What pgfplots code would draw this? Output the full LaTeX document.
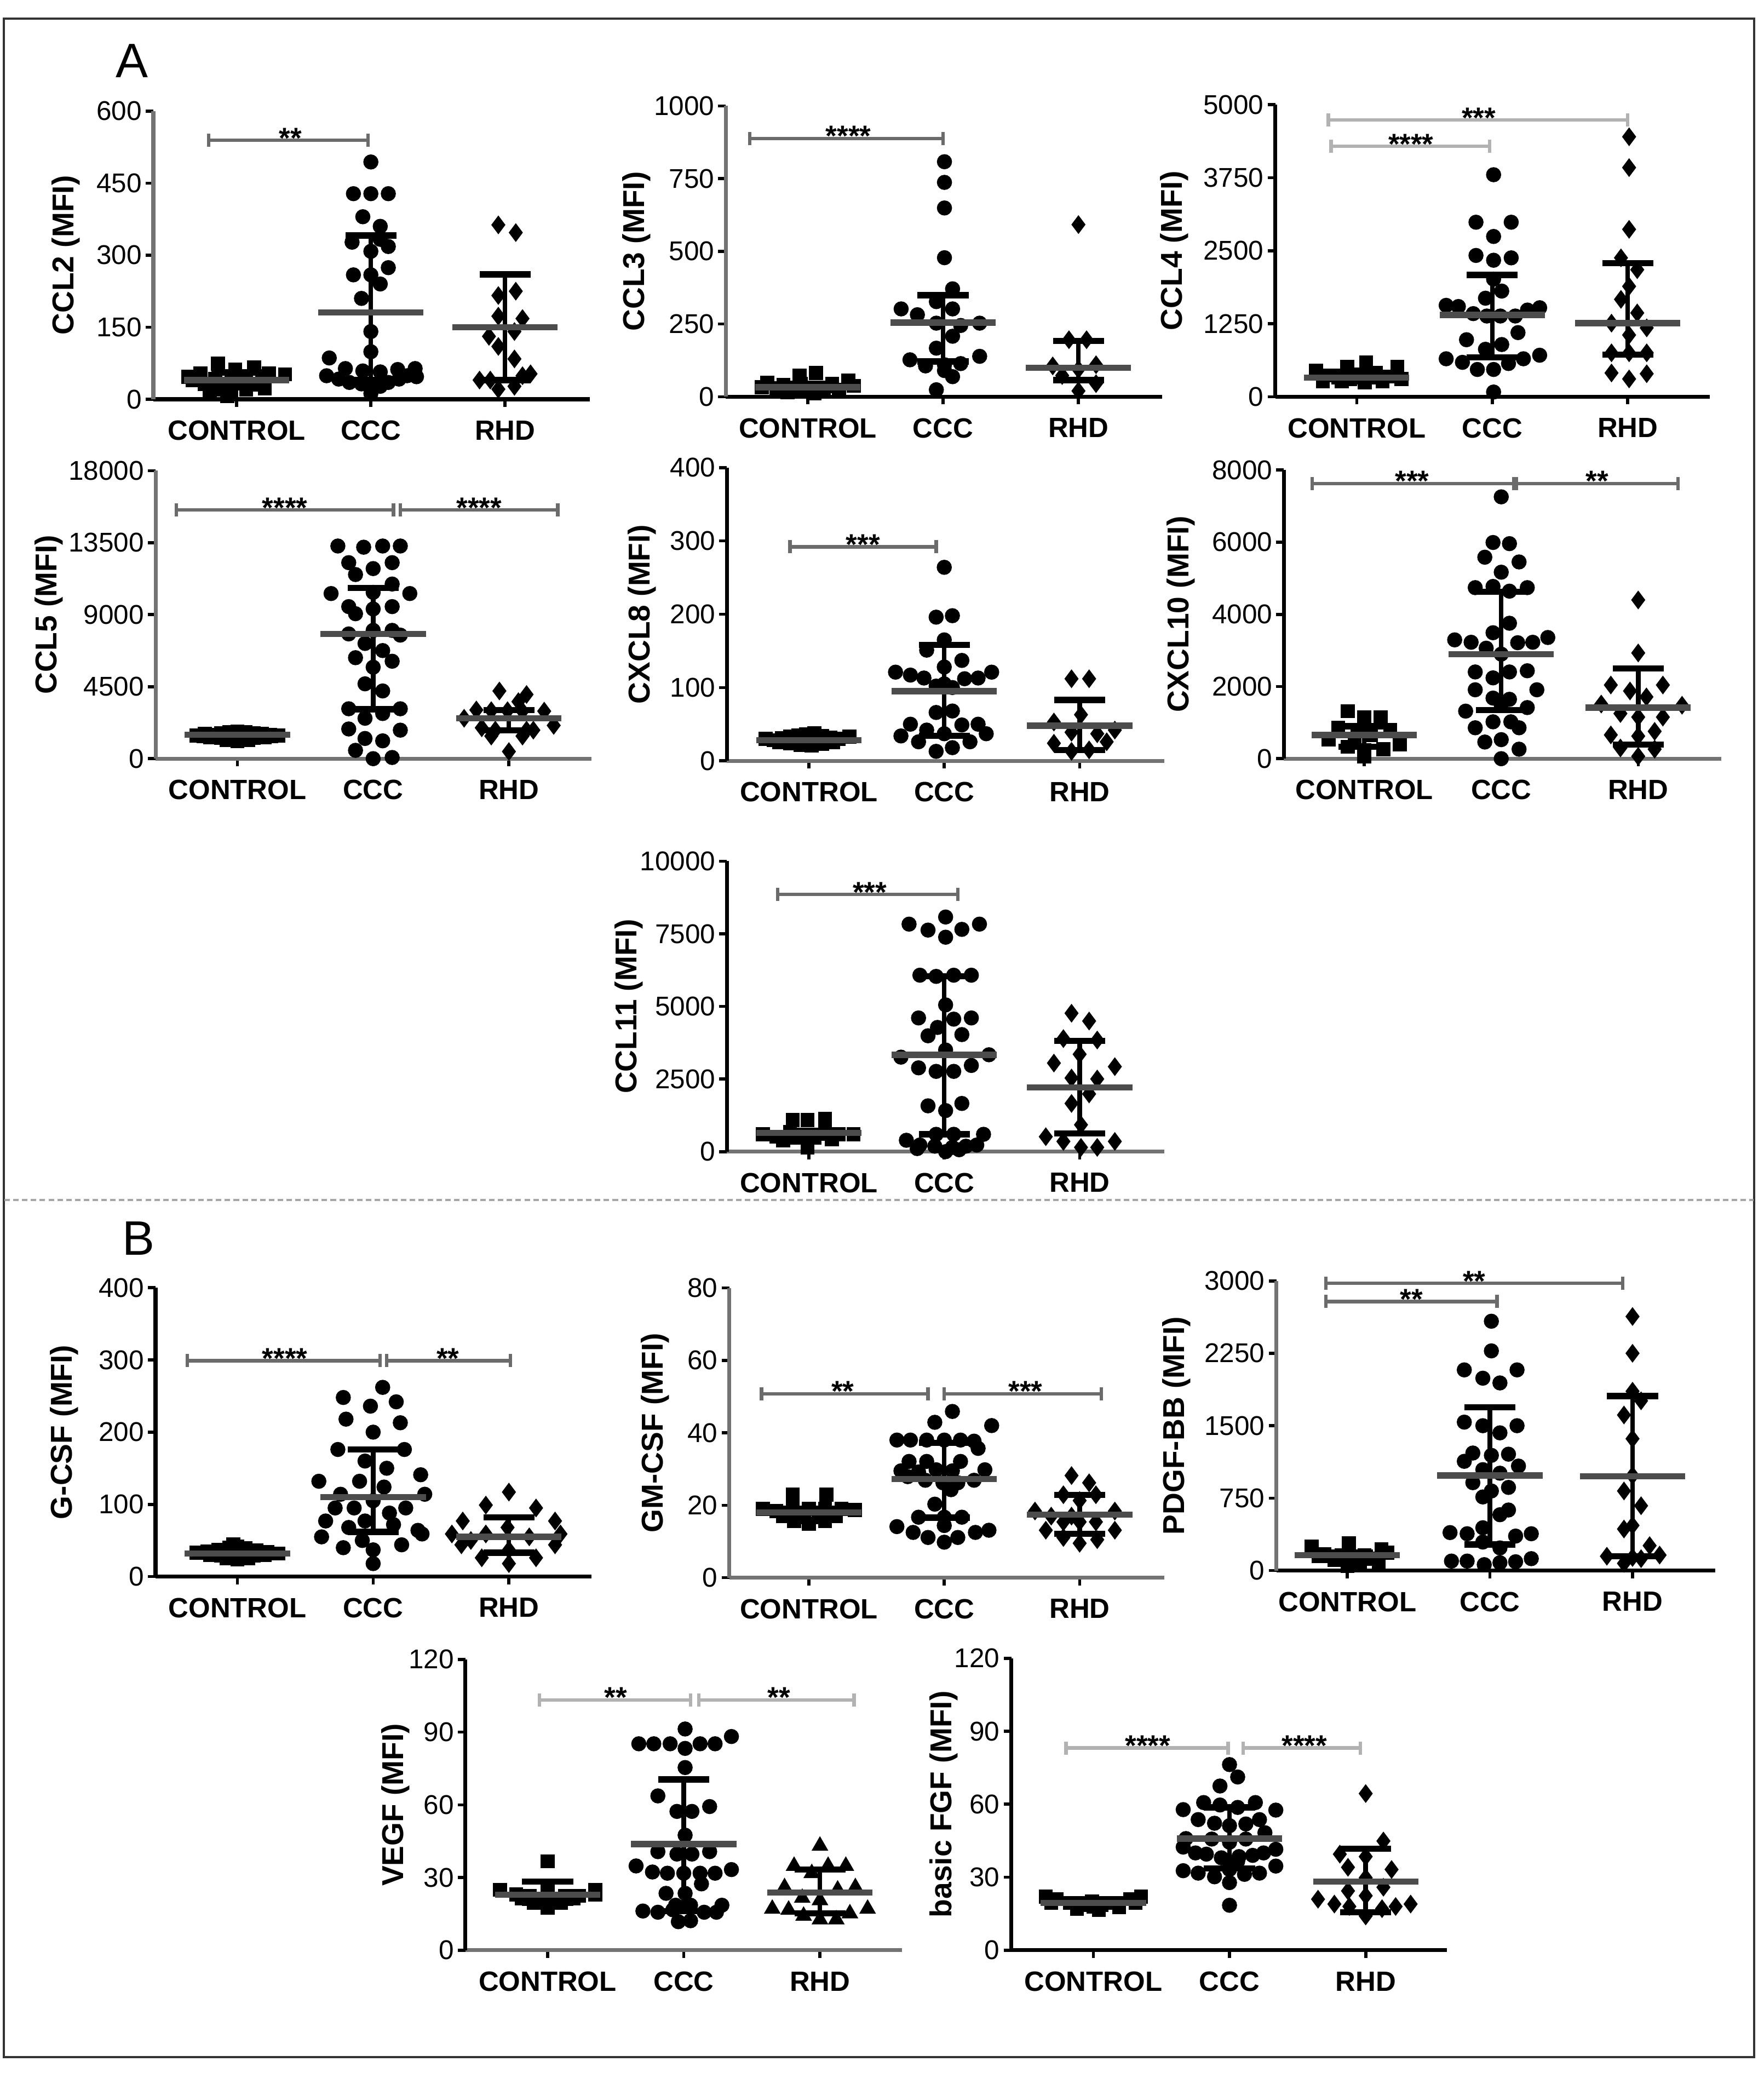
\documentclass[border=0pt]{standalone}
\usepackage{pgfplots}
\pgfplotsset{compat=1.18}
\usepackage{fontspec}
\setmainfont{Liberation Sans}
\definecolor{axgray}{gray}{0.45}
\definecolor{brgray}{gray}{0.42}
\definecolor{brlight}{gray}{0.7}

\pgfplotsset{
  panel/.style={
    scale only axis,
    anchor=south west,
    axis lines*=left,
    ymin=0,
    xtick={1,2,3},
    xticklabels={CONTROL,CCC,RHD},
    tick align=outside,
    major tick length=0.07cm,
    tick style={black, line width=0.8pt},
    axis line style={line width=1pt},
    clip=false,
    scaled y ticks=false,
    /pgf/number format/assume math mode=true,
    /pgf/number format/1000 sep={},
    yticklabel style={font=\fontsize{7}{8}\selectfont, inner sep=0.8pt},
    xticklabel style={font=\bfseries\fontsize{7.2}{8}\selectfont},
    ylabel style={font=\bfseries\fontsize{7.8}{9}\selectfont},
  },
  ylpos/.style={ylabel style={at={(axis description cs:-#1,0.5)}, anchor=center}},
  ctrl/.style={only marks, mark=square*, mark size=1.6pt, mark options={black}},
  ccc/.style={only marks, mark=*, mark size=1.75pt, mark options={black}},
  rhd/.style={only marks, mark=diamond*, mark size=2.1pt, mark options={black}},
  tri/.style={only marks, mark=triangle*, mark size=2.1pt, mark options={black}},
  med/.style={only marks, mark=-, mark size=13.6pt, mark options={black!70, line width=1.6pt}},
  iqr/.style={black, line width=1.2pt, mark=-, mark size=6.6pt, mark options={black, line width=1.6pt}},
  brk/.style={brgray, line width=0.9pt, mark=|, mark size=1.7pt, mark options={brgray, line width=0.9pt}},
  brkl/.style={brlight, line width=0.9pt, mark=|, mark size=1.7pt, mark options={brlight, line width=0.9pt}},
}
\newcommand{\stars}[3]{\node[font=\bfseries\fontsize{7.5}{8}\selectfont, anchor=base, inner sep=0pt, yshift=-0.07cm] at (axis cs:#1,#2) {#3};}

\begin{document}
\begin{tikzpicture}
\useasboundingbox (0,0) rectangle (16.008,-18.816);
\draw[black!80, line width=0.6pt] (0.036,-0.168) rectangle (15.924,-18.672);
\draw[black!35, line width=0.6pt, dash pattern=on 0.05cm off 0.03cm] (0.04,-10.89) -- (15.92,-10.89);
\node[font=\fontsize{12.5}{14}\selectfont] at (1.20,-0.55) {A};
\node[font=\fontsize{12.5}{14}\selectfont] at (1.26,-11.24) {B};

% ---------------- CCL2
\begin{axis}[panel, at={(1.392cm,-3.624cm)}, width=3.96cm, height=2.616cm,
  xmin=0.379, xmax=3.63, ymax=600, ytick={0,150,300,450,600},
  ylabel={CCL2 (MFI)}, ylpos=0.2, y axis line style={axgray}]
\addplot[ctrl] coordinates {(0.86,74) (0.73,54) (0.99,62) (1.13,67) (1.24,54) (1.36,52) (0.84,42) (0.96,44) (1.07,44) (1.19,42) (0.76,32) (0.89,30) (1.01,35) (1.13,30) (0.96,17) (0.84,20) (1.07,20) (0.93,7) (0.80,12) (1.21,22) (0.64,47) (0.67,40)};
\addplot[ccc] coordinates {(2.00,494) (1.87,428) (2.00,428) (2.13,428) (1.94,380) (2.07,360) (1.86,327) (2.00,308) (2.13,318) (2.07,333) (2.13,274) (1.87,259) (2.00,259) (2.07,240) (1.93,210) (2.00,141) (2.00,99) (1.69,86) (1.67,49) (1.76,42) (1.81,64) (1.94,59) (2.07,57) (2.20,62) (2.33,64) (2.27,49) (2.34,47) (1.84,35) (1.93,32) (2.00,22) (2.07,27) (2.13,35) (2.21,42) (2.00,12)};
\addplot[rhd] coordinates {(2.95,363) (3.08,347) (3.08,225) (2.95,216) (2.95,173) (3.13,168) (2.88,131) (3.07,141) (2.95,110) (3.07,84) (2.81,40) (2.89,40) (3.13,49) (3.19,53) (2.95,21) (3.07,27)};
\addplot[iqr] coordinates {(1,25) (1,56)};
\addplot[iqr] coordinates {(2,40) (2,341)};
\addplot[iqr] coordinates {(3,40) (3,260)};
\addplot[med] coordinates {(1,40) (2,181) (3,150)};
\addplot[brk] coordinates {(0.79,539) (1.98,539)};
\stars{1.4}{539}{**}
\end{axis}

% ---------------- CCL3
\begin{axis}[panel, at={(6.589cm,-3.601cm)}, width=3.962cm, height=2.64cm,
  xmin=0.395, xmax=3.62, ymax=1000, ytick={0,250,500,750,1000},
  ylabel={CCL3 (MFI)}, ylpos=0.205, y axis line style={axgray}]
\addplot[ctrl] coordinates {(0.94,73) (1.06,82) (0.70,49) (0.82,41) (1.18,45) (1.30,55) (0.77,29) (0.90,29) (1.00,20) (1.12,29) (1.23,24) (1.34,37) (0.85,16) (1.05,12) (0.66,33) (0.95,45)};
\addplot[ccc] coordinates {(2.01,808) (2.01,737) (2.01,649) (2.01,478) (2.07,371) (1.95,327) (1.69,302) (2.07,302) (1.81,282) (1.95,253) (2.13,245) (2.27,253) (2.07,208) (1.95,167) (1.755,127) (2.27,139) (1.87,106) (2.01,110) (2.13,114) (2.01,90) (2.07,69) (1.95,24)};
\addplot[rhd] coordinates {(3.00,592) (2.93,196) (3.06,196) (2.81,106) (2.88,73) (3.00,94) (3.13,110) (3.13,45) (3.00,20)};
\addplot[iqr] coordinates {(1,22) (1,45)};
\addplot[iqr] coordinates {(2,121) (2,349)};
\addplot[iqr] coordinates {(3,57) (3,192)};
\addplot[med] coordinates {(1,33) (2,255) (3,100)};
\addplot[brk] coordinates {(0.57,888) (2.0,888)};
\stars{1.3}{888}{****}
\end{axis}

% ---------------- CCL4
\begin{axis}[panel, at={(11.576cm,-3.601cm)}, width=3.946cm, height=2.651cm,
  xmin=0.399, xmax=3.607, ymax=5000, ytick={0,1250,2500,3750,5000},
  ylabel={CCL4 (MFI)}, ylpos=0.232]
\addplot[ctrl] coordinates {(0.70,447) (0.93,508) (1.07,589) (1.30,508) (0.78,366) (0.86,366) (1.00,386) (1.14,407) (1.23,346) (0.75,264) (0.89,264) (1.06,244) (1.19,264) (1.33,305) (0.95,305)};
\addplot[ccc] coordinates {(2.01,3801) (1.88,2988) (2.14,2988) (2.01,2744) (1.88,2419) (2.01,2337) (2.14,2378) (2.01,2013) (2.07,1809) (1.95,1687) (1.66,1565) (1.75,1545) (1.86,1423) (1.96,1382) (2.06,1382) (2.17,1382) (2.26,1484) (2.35,1524) (1.81,976) (2.19,1098) (2.07,894) (1.95,813) (1.66,650) (1.78,589) (1.89,467) (2.01,467) (2.12,569) (2.23,650) (2.35,711) (2.01,81)};
\addplot[rhd] coordinates {(3.01,4451) (3.01,3923) (3.01,2866) (2.95,2378) (3.07,2175) (3.01,1890) (2.95,1667) (3.07,1435) (2.88,1260) (3.14,1179) (3.01,1057) (2.88,752) (3.01,752) (3.14,752) (2.88,407) (3.14,394) (3.01,305)};
\addplot[iqr] coordinates {(1,264) (1,420)};
\addplot[iqr] coordinates {(2,671) (2,2085)};
\addplot[iqr] coordinates {(3,720) (3,2289)};
\addplot[med] coordinates {(1,325) (2,1402) (3,1260)};
\addplot[brkl] coordinates {(0.79,4736) (3.0,4736)};
\addplot[brkl] coordinates {(0.81,4287) (1.98,4287)};
\stars{1.9}{4736}{***}
\stars{1.4}{4287}{****}
\end{axis}

% ---------------- CCL5
\begin{axis}[panel, at={(1.412cm,-6.886cm)}, width=3.958cm, height=2.614cm,
  xmin=0.397, xmax=3.609, ymax=18000, ytick={0,4500,9000,13500,18000},
  ylabel={CCL5 (MFI)}, ylpos=0.245, axis line style={axgray}]
\addplot[ctrl] coordinates {(0.70,1450) (0.76,1550) (0.82,1500) (0.88,1600) (0.94,1650) (1.00,1700) (1.06,1650) (1.12,1600) (1.18,1550) (1.24,1500) (1.30,1450) (0.80,1350) (0.88,1300) (0.96,1250) (1.04,1250) (1.12,1300) (1.20,1350) (0.92,1150) (1.00,1100) (1.08,1150) (0.75,1400) (1.25,1400)};
\addplot[ccc] coordinates {(1.74,13291) (1.93,13217) (2.07,13291) (2.20,13291) (1.82,12251) (2.14,12251) (2.00,11880) (1.87,11509) (2.14,10915) (1.69,10321) (2.00,10395) (2.27,10321) (1.82,9504) (2.00,9356) (2.14,9504) (1.87,9059) (1.82,7796) (2.00,8019) (2.14,8019) (2.20,7722) (1.94,7202) (2.07,6757) (1.87,6311) (2.14,6089) (2.00,5717) (1.94,4678) (2.07,4232) (1.82,3118) (2.20,3118) (1.94,2525) (2.07,2822) (1.82,1856) (2.20,1782) (1.94,1262) (2.07,1114) (1.87,520) (2.00,0) (2.14,74)};
\addplot[rhd] coordinates {(2.93,4232) (3.13,4010) (3.07,3564) (2.76,3044) (2.87,3000) (2.99,3000) (3.10,2970) (3.26,2970) (2.67,2525) (3.33,2079) (2.80,1931) (2.90,1782) (3.13,1782) (3.18,1782) (2.87,1411) (3.10,1411) (3.00,445)};
\addplot[iqr] coordinates {(1,1300) (1,1600)};
\addplot[iqr] coordinates {(2,3089) (2,10662)};
\addplot[iqr] coordinates {(3,1782) (3,3044)};
\addplot[med] coordinates {(1,1485) (2,7796) (3,2525)};
\addplot[brk] coordinates {(0.55,15545) (2.15,15545)};
\addplot[brk] coordinates {(2.20,15545) (3.36,15545)};
\stars{1.35}{15545}{****}
\stars{2.78}{15545}{****}
\end{axis}

% ---------------- CXCL8
\begin{axis}[panel, at={(6.599cm,-6.906cm)}, width=3.968cm, height=2.662cm,
  xmin=0.395, xmax=3.624, ymax=400, ytick={0,100,200,300,400},
  ylabel={CXCL8 (MFI)}, ylpos=0.195, x axis line style={axgray}]
\addplot[ctrl] coordinates {(0.68,30) (0.74,28) (0.80,31) (0.86,33) (0.92,35) (0.98,36) (1.04,38) (1.10,34) (1.16,32) (1.22,30) (1.30,33) (0.78,25) (0.86,24) (0.94,22) (1.02,21) (1.10,23) (1.18,25) (0.90,28) (1.00,27) (1.08,29)};
\addplot[ccc] coordinates {(2.00,264) (1.94,196) (2.06,198) (2.00,165) (1.87,151) (2.13,137) (2.00,128) (1.64,121) (1.75,117) (1.85,113) (2.15,112) (2.25,113) (2.35,121) (2.00,105) (1.94,102) (2.06,100) (1.94,66) (2.06,68) (1.75,50) (2.13,49) (2.25,50) (1.87,42) (1.68,34) (2.00,37) (2.31,37) (1.81,26) (2.19,26) (2.06,18) (1.94,13)};
\addplot[rhd] coordinates {(2.94,112) (3.07,112) (3.01,63) (2.81,53) (2.94,39) (3.13,37) (3.26,42) (2.81,24) (3.20,26) (2.94,13) (3.07,15)};
\addplot[iqr] coordinates {(1,24) (1,33)};
\addplot[iqr] coordinates {(2,34) (2,158)};
\addplot[iqr] coordinates {(3,15) (3,83)};
\addplot[med] coordinates {(1,28) (2,95) (3,48)};
\addplot[brk] coordinates {(0.86,292) (1.94,292)};
\stars{1.4}{292}{***}
\end{axis}

% ---------------- CXCL10
\begin{axis}[panel, at={(11.654cm,-6.886cm)}, width=3.97cm, height=2.62cm,
  xmin=0.413, xmax=3.606, ymax=8000, ytick={0,2000,4000,6000,8000},
  ylabel={CXCL10 (MFI)}, ylpos=0.236, x axis line style={axgray}]
\addplot[ctrl] coordinates {(0.88,1317) (1.00,1152) (1.12,1152) (0.81,856) (1.19,790) (0.95,757) (1.05,658) (0.74,527) (0.88,329) (1.00,230) (1.14,263) (1.26,395) (1.00,66) (0.93,527)};
\addplot[ccc] coordinates {(2.00,7256) (1.94,5991) (2.06,5959) (1.88,5583) (2.13,5452) (2.00,5168) (1.81,4740) (1.94,4773) (2.06,4642) (2.19,4740) (2.06,3753) (1.94,3490) (1.66,3292) (1.78,3226) (1.89,3062) (2.12,3213) (2.23,3226) (2.34,3358) (2.00,2897) (1.81,2403) (2.06,2403) (2.19,2436) (1.94,2239) (1.81,1909) (2.26,1909) (1.94,1679) (2.06,1646) (1.74,1317) (2.19,1416) (2.00,1481) (1.81,856) (1.94,1021) (2.07,1021) (2.13,856) (1.88,461) (2.00,527) (2.13,263) (2.00,0)};
\addplot[rhd] coordinates {(3.00,4398) (3.00,2930) (2.80,2041) (3.18,2041) (2.94,1876) (3.06,1712) (2.73,1514) (3.32,1481) (2.87,1251) (3.00,1152) (3.18,1152) (2.80,658) (3.12,757) (3.00,625) (2.87,296) (3.12,263) (3.00,66)};
\addplot[iqr] coordinates {(1,330) (1,900)};
\addplot[iqr] coordinates {(2,1350) (2,4622)};
\addplot[iqr] coordinates {(3,395) (3,2502)};
\addplot[med] coordinates {(1,658) (2,2897) (3,1416)};
\addplot[brk] coordinates {(0.62,7626) (2.09,7626)};
\addplot[brk] coordinates {(2.11,7626) (3.29,7626)};
\stars{1.35}{7626}{***}
\stars{2.7}{7626}{**}
\end{axis}

% ---------------- CCL11
\begin{axis}[panel, at={(6.599cm,-10.453cm)}, width=3.968cm, height=2.636cm,
  xmin=0.395, xmax=3.624, ymax=10000, ytick={0,2500,5000,7500,10000},
  ylabel={CCL11 (MFI)}, ylpos=0.225, x axis line style={axgray}]
\addplot[ctrl] coordinates {(0.88,1088) (0.99,1088) (1.12,1128) (0.66,597) (0.76,515) (0.86,679) (1.12,679) (1.22,597) (1.33,597) (0.91,474) (1.04,474) (0.81,392) (1.17,433) (0.99,147)};
\addplot[ccc] coordinates {(2.01,8079) (1.74,7834) (2.26,7834) (1.88,7629) (2.13,7654) (2.01,7384) (1.82,6076) (1.94,6035) (2.07,6076) (2.20,6076) (2.01,5053) (1.81,4604) (2.07,4563) (2.20,4604) (1.95,4277) (1.88,3990) (2.13,4031) (2.01,3500) (1.68,3254) (2.33,3336) (1.81,2886) (1.94,2764) (2.07,2764) (2.20,2968) (1.88,1578) (2.13,1660) (2.01,1415) (1.94,597) (2.07,597) (2.29,597) (1.72,392) (1.82,229) (1.93,188) (2.01,0) (2.06,147) (2.16,188) (2.24,229) (1.80,106) (2.11,65)};
\addplot[rhd] coordinates {(2.94,4767) (3.07,4497) (2.88,3892) (3.13,3843) (3.00,3353) (2.81,3050) (3.26,2927) (2.94,2535) (3.13,2502) (3.07,1987) (2.94,1660) (3.01,924) (2.75,515) (2.88,352) (3.26,352) (3.01,147) (3.13,147)};
\addplot[iqr] coordinates {(1,470) (1,720)};
\addplot[iqr] coordinates {(2,597) (2,6035)};
\addplot[iqr] coordinates {(3,621) (3,3811)};
\addplot[med] coordinates {(1,650) (2,3336) (3,2208)};
\addplot[brk] coordinates {(0.77,8856) (2.10,8856)};
\stars{1.45}{8856}{***}
\end{axis}

% ---------------- G-CSF
\begin{axis}[panel, at={(1.412cm,-14.31cm)}, width=3.958cm, height=2.622cm,
  xmin=0.397, xmax=3.609, ymax=400, ytick={0,100,200,300,400},
  ylabel={G-CSF (MFI)}, ylpos=0.21]
\addplot[ctrl] coordinates {(0.70,33) (0.78,35) (0.86,37) (0.94,40) (1.00,42) (1.06,39) (1.14,36) (1.22,34) (1.30,32) (0.80,30) (0.88,29) (0.96,28) (1.04,28) (1.12,29) (1.20,30) (0.92,25) (1.00,24) (1.08,25) (0.97,45) (1.03,35)};
\addplot[ccc] coordinates {(2.07,262) (1.78,248) (2.17,242) (1.98,236) (1.80,218) (2.20,213) (2.00,200) (1.74,176) (2.23,176) (1.94,160) (2.10,150) (1.60,132) (1.90,132) (2.35,141) (2.08,124) (1.76,114) (2.38,114) (2.00,105) (1.72,95) (2.24,95) (1.86,95) (2.12,88) (1.65,77) (1.94,77) (2.15,72) (1.82,68) (2.33,64) (1.62,55) (2.36,59) (1.78,40) (2.00,37) (2.21,44) (1.92,50) (2.00,18)};
\addplot[rhd] coordinates {(3.00,117) (2.83,99) (3.20,95) (2.66,77) (3.34,77) (2.99,68) (2.83,59) (3.15,55) (2.65,44) (3.34,44) (3.00,37) (2.80,26) (3.20,26) (3.00,18) (2.58,59) (3.38,59) (2.72,50)};
\addplot[iqr] coordinates {(1,28) (1,37)};
\addplot[iqr] coordinates {(2,62) (2,176)};
\addplot[iqr] coordinates {(3,33) (3,82)};
\addplot[med] coordinates {(1,32) (2,110) (3,55)};
\addplot[brk] coordinates {(0.63,299) (2.05,299)};
\addplot[brk] coordinates {(2.10,299) (3.01,299)};
\stars{1.35}{299}{****}
\stars{2.55}{299}{**}
\end{axis}

% ---------------- GM-CSF
\begin{axis}[panel, at={(6.62cm,-14.32cm)}, width=3.947cm, height=2.63cm,
  xmin=0.412, xmax=3.624, ymax=80, ytick={0,20,40,60,80},
  ylabel={GM-CSF (MFI)}, ylpos=0.17, axis line style={axgray}]
\addplot[ctrl] coordinates {(0.88,22.9) (1.13,22.9) (0.66,19.0) (0.76,18.4) (0.88,19.0) (1.00,19.0) (1.12,19.0) (1.24,19.0) (1.34,18.7) (0.81,17.0) (0.94,16.7) (1.07,16.7) (1.20,17.0) (1.00,14.8) (0.89,15.7) (1.12,15.7)};
\addplot[ccc] coordinates {(2.06,45.9) (1.93,42.9) (2.35,42.0) (1.65,38.0) (1.75,38.0) (1.87,38.0) (2.00,38.0) (2.12,38.0) (2.22,37.7) (2.25,35.7) (1.74,32.1) (1.87,32.1) (2.12,32.1) (1.68,29.5) (1.81,29.2) (1.94,29.8) (2.06,29.5) (2.30,29.8) (1.73,27.9) (1.86,26.9) (1.99,26.2) (2.10,26.2) (2.22,26.9) (2.05,24.3) (1.93,20.3) (1.81,16.7) (2.00,16.7) (2.13,16.7) (1.65,14.1) (1.77,12.5) (1.88,11.1) (2.00,9.8) (2.10,11.1) (2.23,12.5) (2.33,13.1) (2.00,14.4)};
\addplot[rhd] coordinates {(2.94,28.2) (3.07,26.2) (2.88,22.9) (3.00,21.3) (3.12,22.9) (2.67,18.4) (3.26,18.4) (2.79,17.0) (2.88,15.4) (3.00,15.4) (3.12,15.4) (2.75,13.1) (3.26,13.1) (2.88,11.1) (3.00,9.5) (3.13,10.5) (2.94,17.0)};
\addplot[iqr] coordinates {(1,16) (1,19)};
\addplot[iqr] coordinates {(2,16.6) (2,37.2)};
\addplot[iqr] coordinates {(3,12.1) (3,22.9)};
\addplot[med] coordinates {(1,18) (2,27.2) (3,17.4)};
\addplot[brk] coordinates {(0.65,50.8) (1.88,50.8)};
\addplot[brk] coordinates {(2.0,50.8) (3.16,50.8)};
\stars{1.25}{50.8}{**}
\stars{2.6}{50.8}{***}
\end{axis}

% ---------------- PDGF-BB
\begin{axis}[panel, at={(11.586cm,-14.255cm)}, width=3.986cm, height=2.629cm,
  xmin=0.502, xmax=3.582, ymax=3000, ytick={0,750,1500,2250,3000},
  ylabel={PDGF-BB (MFI)}, ylpos=0.228, y axis line style={axgray}]
\addplot[ctrl] coordinates {(1.01,283) (0.75,246) (1.24,221) (0.84,172) (0.96,160) (1.12,160) (1.28,184) (0.91,111) (1.04,111) (1.17,123) (1.00,49) (1.09,61) (1.22,86) (0.80,148)};
\addplot[ccc] coordinates {(2.01,2582) (2.01,2275) (1.82,2078) (2.19,2078) (1.95,1992) (2.07,1943) (1.82,1537) (1.95,1500) (2.19,1500) (2.07,1426) (1.88,1217) (2.13,1205) (2.01,1193) (1.82,1131) (2.20,1082) (1.95,1045) (2.07,1008) (1.88,910) (2.13,861) (2.01,824) (1.95,762) (2.13,627) (2.07,578) (1.95,443) (1.72,393) (1.84,381) (2.18,357) (2.29,381) (1.95,295) (2.07,234) (1.73,98) (1.84,98) (1.96,61) (2.07,81) (2.18,91) (2.29,123)};
\addplot[rhd] coordinates {(3.00,2631) (3.00,2250) (3.00,1857) (3.06,1758) (2.94,1611) (3.00,1365) (3.00,984) (2.94,824) (3.06,671) (3.00,467) (2.94,430) (3.12,258) (2.82,148) (3.00,135) (3.19,160) (2.94,74) (3.06,123)};
\addplot[iqr] coordinates {(1,111) (1,184)};
\addplot[iqr] coordinates {(2,270) (2,1689)};
\addplot[iqr] coordinates {(3,148) (3,1807)};
\addplot[med] coordinates {(1,160) (2,984) (3,976)};
\addplot[brk] coordinates {(0.85,2975) (2.93,2975)};
\addplot[brk] coordinates {(0.85,2786) (2.05,2786)};
\stars{1.89}{2975}{**}
\stars{1.45}{2786}{**}
\end{axis}

% ---------------- VEGF
\begin{axis}[panel, at={(4.225cm,-17.702cm)}, width=3.962cm, height=2.64cm,
  xmin=0.397, xmax=3.602, ymax=120, ytick={0,30,60,90,120},
  ylabel={VEGF (MFI)}, ylpos=0.16, x axis line style={axgray}]
\addplot[ctrl] coordinates {(1.00,36.7) (0.65,25.0) (1.35,25.0) (0.77,23.0) (0.87,22.5) (1.00,22.5) (1.13,22.5) (1.23,22.5) (1.35,23.0) (0.90,19.6) (1.00,17.6) (1.10,19.6) (1.00,25.5) (0.81,21.5) (1.19,21.5)};
\addplot[ccc] coordinates {(2.01,91.3) (2.35,88.2) (1.67,85.2) (1.78,85.2) (1.90,85.2) (2.01,83.3) (2.12,85.2) (2.23,85.2) (2.01,75.4) (1.81,63.7) (2.19,59.3) (1.95,57.3) (2.06,57.3) (2.01,47.5) (1.81,40.7) (1.95,39.7) (2.06,39.7) (2.19,40.7) (1.65,34.8) (1.77,32.3) (1.88,31.8) (2.00,31.8) (2.12,31.8) (2.23,31.8) (2.35,33.3) (2.13,27.4) (1.87,23.5) (2.01,23.5) (2.28,18.6) (1.70,16.2) (1.81,15.7) (1.92,16.7) (2.05,18.6) (2.15,15.7) (1.96,11.8) (2.05,12.2) (1.94,18.6) (2.24,15.7)};
\addplot[tri] coordinates {(3.00,43.1) (2.81,34.8) (2.94,31.8) (3.06,34.8) (3.19,34.8) (2.74,26.0) (3.13,25.0) (3.26,26.0) (2.87,21.6) (3.00,20.6) (2.65,17.1) (2.77,16.7) (3.35,17.1) (2.88,14.2) (3.00,12.7) (3.12,12.7) (3.22,15.2)};
\addplot[iqr] coordinates {(1,19.6) (1,28.4)};
\addplot[iqr] coordinates {(2,16.2) (2,70.5)};
\addplot[iqr] coordinates {(3,15.2) (3,33.3)};
\addplot[med] coordinates {(1,23) (2,43.8) (3,23.8)};
\addplot[brkl] coordinates {(0.94,103.3) (2.05,103.3)};
\addplot[brkl] coordinates {(2.11,103.3) (3.25,103.3)};
\stars{1.5}{103.3}{**}
\stars{2.7}{103.3}{**}
\end{axis}

% ---------------- basic FGF
\begin{axis}[panel, at={(9.18cm,-17.702cm)}, width=3.956cm, height=2.651cm,
  xmin=0.398, xmax=3.598, ymax=120, ytick={0,30,60,90,120},
  ylabel={basic FGF (MFI)}, ylpos=0.155]
\addplot[ctrl] coordinates {(0.65,22.0) (0.73,21.0) (0.83,19.5) (0.94,18.5) (1.00,18.0) (1.06,18.5) (1.17,19.5) (1.27,21.0) (1.35,22.0) (0.69,19.5) (0.88,17.1) (1.04,16.6) (1.19,17.6) (1.31,19.5) (0.99,20.0)};
\addplot[ccc] coordinates {(2.00,76.3) (2.06,71.2) (1.93,67.5) (1.81,60.7) (1.93,59.7) (2.06,58.7) (2.19,60.7) (1.66,57.8) (2.34,57.6) (1.77,53.7) (1.89,52.2) (2.00,51.2) (2.12,51.9) (2.22,53.7) (2.26,48.3) (1.68,45.9) (1.87,45.7) (2.00,44.4) (2.12,45.7) (1.66,42.4) (2.34,41.5) (1.75,40.0) (1.83,39.5) (1.94,38.0) (2.07,38.5) (2.17,39.0) (2.25,40.0) (2.00,35.6) (2.06,36.6) (2.34,34.6) (1.66,32.7) (1.77,31.7) (1.89,30.2) (2.00,33.2) (2.11,31.2) (2.22,31.7) (2.00,27.8) (2.00,18.5)};
\addplot[rhd] coordinates {(3.00,64.4) (3.13,44.9) (2.81,39.5) (3.00,38.5) (2.87,34.1) (3.19,33.2) (3.00,29.8) (3.13,25.9) (2.87,24.4) (3.00,22.4) (2.65,21.0) (2.77,19.0) (2.88,18.0) (3.12,17.1) (3.22,18.0) (3.33,19.0) (3.00,14.1)};
\addplot[iqr] coordinates {(1,18) (1,21)};
\addplot[iqr] coordinates {(2,33.7) (2,58.7)};
\addplot[iqr] coordinates {(3,15.6) (3,41.8)};
\addplot[med] coordinates {(1,19.5) (2,45.9) (3,28.3)};
\addplot[brkl] coordinates {(0.80,83.1) (1.99,83.1)};
\addplot[brkl] coordinates {(2.10,83.1) (2.96,83.1)};
\stars{1.4}{83.1}{****}
\stars{2.55}{83.1}{****}
\end{axis}
\end{tikzpicture}
\end{document}
